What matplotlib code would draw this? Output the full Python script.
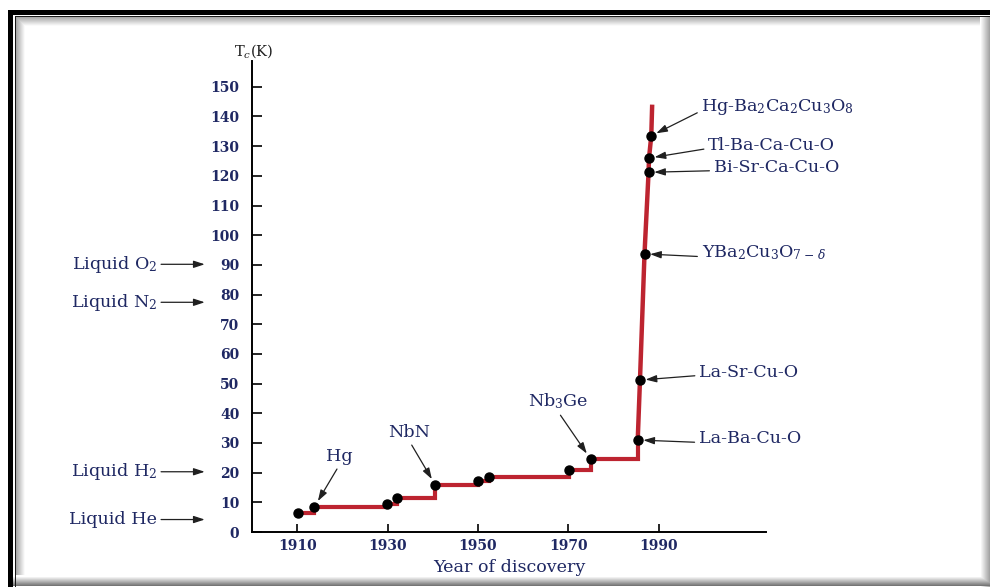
import matplotlib

matplotlib.use("Agg")
import matplotlib.pyplot as plt
import numpy as np

# low-Tc discoveries drawn as a staircase
step_years = [1910.2, 1913.8, 1929.8, 1932.2, 1940.6, 1950.1, 1952.4, 1970.1, 1975.0, 1985.4]
step_tc = [6.4, 8.4, 9.4, 11.6, 15.8, 17.1, 18.6, 20.9, 24.5, 31.0]
# cuprate era: near-vertical rise
rise_years = [1985.4, 1985.9, 1986.9, 1987.8, 1987.9, 1988.4, 1988.6]
rise_tc = [31.0, 51.2, 93.7, 121.2, 126.0, 133.5, 144.0]

labels_low = ["Hg", "NbN", "Nb$_3$Ge"]
labels_low_idx = [1, 4, 8]
labels_high = ["La-Ba-Cu-O", "La-Sr-Cu-O", r"YBa$_2$Cu$_3$O$_{7-\,\delta}$",
               "Bi-Sr-Ca-Cu-O", "Tl-Ba-Ca-Cu-O", "Hg-Ba$_2$Ca$_2$Cu$_3$O$_8$"]

liquids = ["Liquid O$_2$", "Liquid N$_2$", "Liquid H$_2$", "Liquid He"]
liquid_tc = [90.2, 77.4, 20.3, 4.2]

y_ticks = list(range(0, 151, 10))
x_ticks = [1910, 1930, 1950, 1970, 1990]

RED = "#bd2430"
NAVY = "#1f2863"
W, H = 990, 587
FS = 12.6

plt.rcParams.update({
    "font.family": "DejaVu Serif",
    "mathtext.fontset": "dejavuserif",
})

fig = plt.figure(figsize=(W / 100, H / 100), dpi=100)

# picture frame: black border top/left, soft shadow inside and at right/bottom
bg = np.ones((H, W))
bg[10:15, 8:] = 0.0
bg[10:, 8:13] = 0.0
bg[16:17, 15:] = 0.1
bg[16:, 15:16] = 0.1
for i in range(9):
    v = 0.66 + 0.04 * i
    bg[17 + i, 16 + i:W - 10] = np.minimum(bg[17 + i, 16 + i:W - 10], v)
    bg[17 + i:H - 12, 16 + i] = np.minimum(bg[17 + i:H - 12, 16 + i], v)
for i in range(10):
    v = 1.0 - 0.04 * i
    bg[17:H, W - 10 + i] = np.minimum(bg[17:H, W - 10 + i], v)
    bg[H - 11 + i, 13:] = np.minimum(bg[H - 11 + i, 13:], v - 0.02 * i)
bax = fig.add_axes([0, 0, 1, 1], zorder=-5)
bax.imshow(bg, cmap="gray", vmin=0, vmax=1, aspect="auto", interpolation="nearest")
bax.axis("off")

ax = fig.add_axes([252 / W, 1 - 532 / H, (766 - 252) / W, (532 - 61) / H])
ax.patch.set_alpha(0)
ax.set_xlim(1900, 2013.8)
ax.set_ylim(0, 158.7)
for side in ("top", "right"):
    ax.spines[side].set_visible(False)
for side in ("left", "bottom"):
    ax.spines[side].set_linewidth(1.4)

ax.step(step_years, step_tc, where="post", color=RED, lw=3.0, zorder=3,
        solid_joinstyle="miter")
ax.plot(rise_years, rise_tc, color=RED, lw=3.2, zorder=3, solid_capstyle="butt")
dot_x = step_years + rise_years[1:-1]
dot_y = step_tc + rise_tc[1:-1]
ax.plot(dot_x, dot_y, "o", color="black", ms=6.5, zorder=5)

ax.set_yticks(y_ticks)
ax.set_xticks(x_ticks)
ax.tick_params(axis="y", direction="in", length=7, width=1.2, pad=9,
               labelsize=10, labelcolor=NAVY)
ax.tick_params(axis="x", direction="in", length=6, width=1.2, pad=5,
               labelsize=10, labelcolor=NAVY)
for lab in ax.get_xticklabels() + ax.get_yticklabels():
    lab.set_fontweight("bold")

arrow = dict(arrowstyle="-|>,head_length=0.55,head_width=0.18", color="#202020",
             lw=0.9, mutation_scale=12, shrinkA=1, shrinkB=5)

# low-Tc labels above the staircase
low_offsets = [(25, 42), (-26, 44), (-33, 48)]
for name, idx, (dx, dy) in zip(labels_low, labels_low_idx, low_offsets):
    ax.annotate(name, xy=(step_years[idx], step_tc[idx]), xytext=(dx, dy),
                textcoords="offset pixels", ha="center", va="bottom",
                fontsize=FS, color=NAVY,
                arrowprops=dict(arrow, relpos=(0.5, 0.0)))

# cuprate labels to the right
high_pts = [(rise_years[0], rise_tc[0])] + list(zip(rise_years[1:-1], rise_tc[1:-1]))
high_offsets = [(61, 1), (59, 8), (57, 1), (65, 5), (59, 13), (50, 29)]
for name, (px, py), (dx, dy) in zip(labels_high, high_pts, high_offsets):
    ax.annotate(name, xy=(px, py), xytext=(dx, dy),
                textcoords="offset pixels", ha="left", va="center",
                fontsize=FS, color=NAVY,
                arrowprops=dict(arrow, relpos=(0.0, 0.3), shrinkB=4))

# reference boiling points on the left
for name, tc in zip(liquids, liquid_tc):
    ax.annotate(name, xy=(-0.092, tc), xycoords=("axes fraction", "data"),
                xytext=(-0.185, tc), textcoords=("axes fraction", "data"),
                ha="right", va="center", fontsize=FS, color=NAVY,
                annotation_clip=False,
                arrowprops=dict(arrow, shrinkA=1, shrinkB=0))

ax.text(0.004, 1.002, "T$_c$(K)", transform=ax.transAxes, ha="center",
        va="bottom", fontsize=10.5, color="#202020")
ax.set_xlabel("Year of discovery", fontsize=FS, color=NAVY, labelpad=4)

fig.savefig("out.png", dpi=100)
